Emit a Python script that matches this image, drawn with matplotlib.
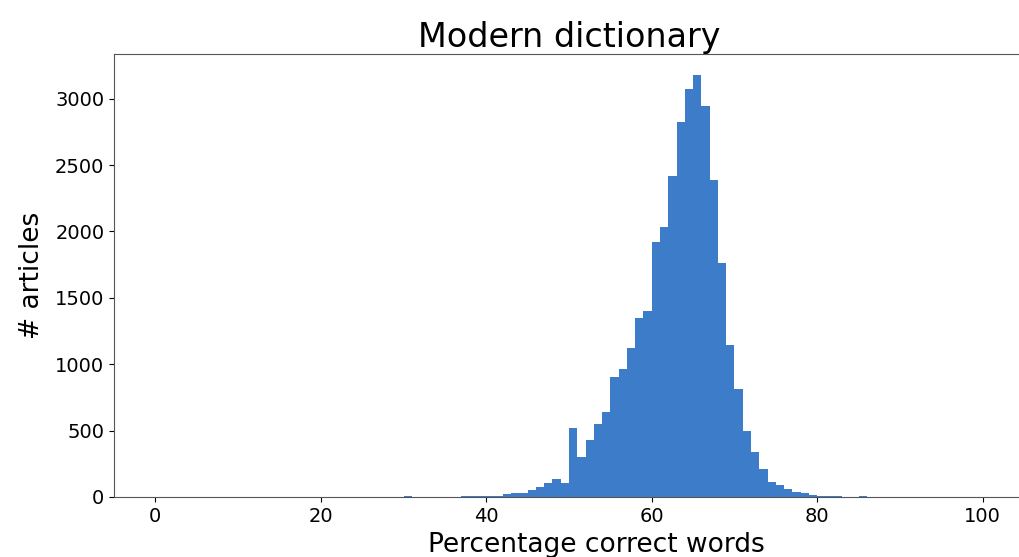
import numpy as np
import matplotlib
matplotlib.use("Agg")
import matplotlib.pyplot as plt

# counts per 1%-bin, index = lower edge of the bin (0..99)
counts = [0] * 100
nonzero = {
    30: 10,
    37: 4, 38: 6, 39: 6, 40: 6, 41: 8,
    42: 25, 43: 28, 44: 32, 45: 53, 46: 73, 47: 103, 48: 133, 49: 103,
    50: 516, 51: 303, 52: 428, 53: 551, 54: 642, 55: 905, 56: 967,
    57: 1125, 58: 1348, 59: 1401, 60: 1920, 61: 2033, 62: 2421,
    63: 2827, 64: 3073, 65: 3180, 66: 2942, 67: 2388, 68: 1764,
    69: 1143, 70: 815, 71: 494, 72: 337, 73: 212, 74: 115, 75: 92,
    76: 58, 77: 40, 78: 28, 79: 15, 80: 8, 81: 6, 82: 5, 83: 2,
    84: 1, 85: 10,
}
for k, v in nonzero.items():
    counts[k] = v

bin_edges = np.arange(0, 101)

fig = plt.figure(figsize=(10.2, 5.57), dpi=100)
ax = fig.add_axes([114 / 1020, 60 / 557, 910 / 1020, 443.5 / 557])

ax.hist(bin_edges[:-1], bins=bin_edges, weights=counts, color='#3d7cc9')

ax.set_xlim(-5, 105)
ax.set_ylim(0, 3340)
ax.set_title('Modern dictionary', fontsize=24, pad=3)
ax.set_xlabel('Percentage correct words', fontsize=19)
ax.xaxis.set_label_coords(0.53, -0.08)
ax.set_ylabel('# articles', fontsize=19, labelpad=7)
ax.tick_params(labelsize=14)
for s in ax.spines.values():
    s.set_color('#555555')

plt.savefig('out.png', dpi=100)
